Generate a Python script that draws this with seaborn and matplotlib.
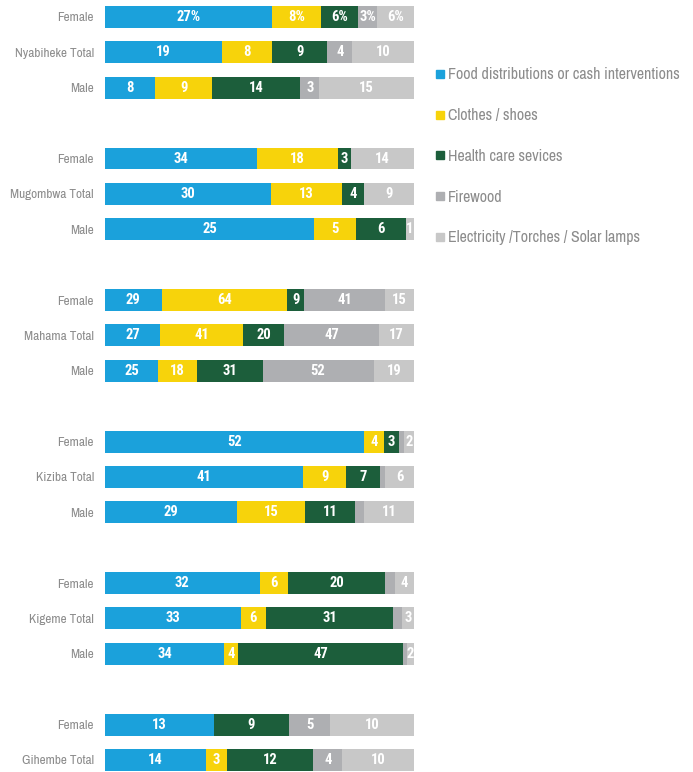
import numpy as np
import pandas as pd
import seaborn as sns
import matplotlib.pyplot as plt
from matplotlib.lines import Line2D

# Row labels and their vertical slots (gaps between camps)
row_labels = ["Female", "Nyabiheke Total", "Male",
              "Female", "Mugombwa Total", "Male",
              "Female", "Mahama Total", "Male",
              "Female", "Kiziba Total", "Male",
              "Female", "Kigeme Total", "Male",
              "Female", "Gihembe Total"]
row_pos = [0, 1, 2, 4, 5, 6, 8, 9, 10, 12, 13, 14, 16, 17, 18, 20, 21]
label_suffix = ["%"] + [""] * 16

# Values per assistance type
food = [27, 19, 8, 34, 30, 25, 29, 27, 25, 52, 41, 29, 32, 33, 34, 13, 14]
clothes = [8, 8, 9, 18, 13, 5, 64, 41, 18, 4, 9, 15, 6, 6, 4, 0, 3]
health = [6, 9, 14, 3, 4, 6, 9, 20, 31, 3, 7, 11, 20, 31, 47, 9, 12]
firewood = [3, 4, 3, 0, 0, 0, 41, 47, 52, 1, 1, 2, 2, 2, 1, 5, 4]
electricity = [6, 10, 15, 14, 9, 1, 15, 17, 19, 2, 6, 11, 4, 3, 2, 10, 10]

series_names = ["Food distributions or cash interventions", "Clothes / shoes",
                "Health care sevices", "Firewood",
                "Electricity /Torches / Solar lamps"]
series_colors = ["#1BA1DB", "#F7D30B", "#1C5E3B", "#AEAFB2", "#C8C8C8"]

values = np.array([food, clothes, health, firewood, electricity], dtype=float)
shares = values / values.sum(axis=0)
ends = np.cumsum(shares, axis=0)
starts = ends - shares

df = pd.DataFrame({"pos": row_pos})
for k in range(len(series_names)):
    df[f"end{k}"] = ends[k]

text_font = ["Archivo Narrow", "Roboto Condensed", "Liberation Sans", "DejaVu Sans"]
value_font = ["Roboto Condensed", "Liberation Sans", "DejaVu Sans"]
plt.rcParams["font.family"] = text_font

W, H = 693, 772
fig = plt.figure(figsize=(W / 100, H / 100), dpi=100)
ax = fig.add_axes([105 / W, 0, 309 / W, 1])

# Stacked bars: draw cumulative totals from the outermost segment inward
for k in reversed(range(len(series_names))):
    sns.barplot(data=df, x=f"end{k}", y="pos", orient="y", native_scale=True,
                color=series_colors[k], saturation=1, width=0.62,
                linewidth=0, ax=ax)

# Segment value labels
for k in range(len(series_names)):
    for i, p in enumerate(row_pos):
        v = values[k, i]
        if v == 0 or (k == 3 and v <= 2):
            continue
        cx = (starts[k, i] + ends[k, i]) / 2
        ax.text(cx, p, f"{int(v)}{label_suffix[i]}", ha="center", va="center",
                color="white", fontsize=10.5, fontweight="bold",
                family=value_font)

ax.set_xlim(0, 1)
ax.set_ylim(21.34, -0.48)
ax.set_yticks(row_pos)
ax.set_yticklabels(row_labels)
ax.tick_params(axis="y", length=0, pad=8, labelsize=9.6, labelcolor="#8C8C8C")
ax.set_xticks([])
ax.set_xlabel("")
ax.set_ylabel("")
for s in ax.spines.values():
    s.set_visible(False)

handles = [Line2D([], [], marker="s", linestyle="", markersize=6,
                  markerfacecolor=c, markeredgecolor=c) for c in series_colors]
fig.legend(handles, series_names, loc="upper left",
           bbox_to_anchor=(429 / W, 1 - 61 / H), frameon=False,
           fontsize=11.5, labelcolor="#8C8C8C", handlelength=0.6,
           handletextpad=0.2, labelspacing=1.61, borderaxespad=0)

fig.savefig("out.png", dpi=100)
